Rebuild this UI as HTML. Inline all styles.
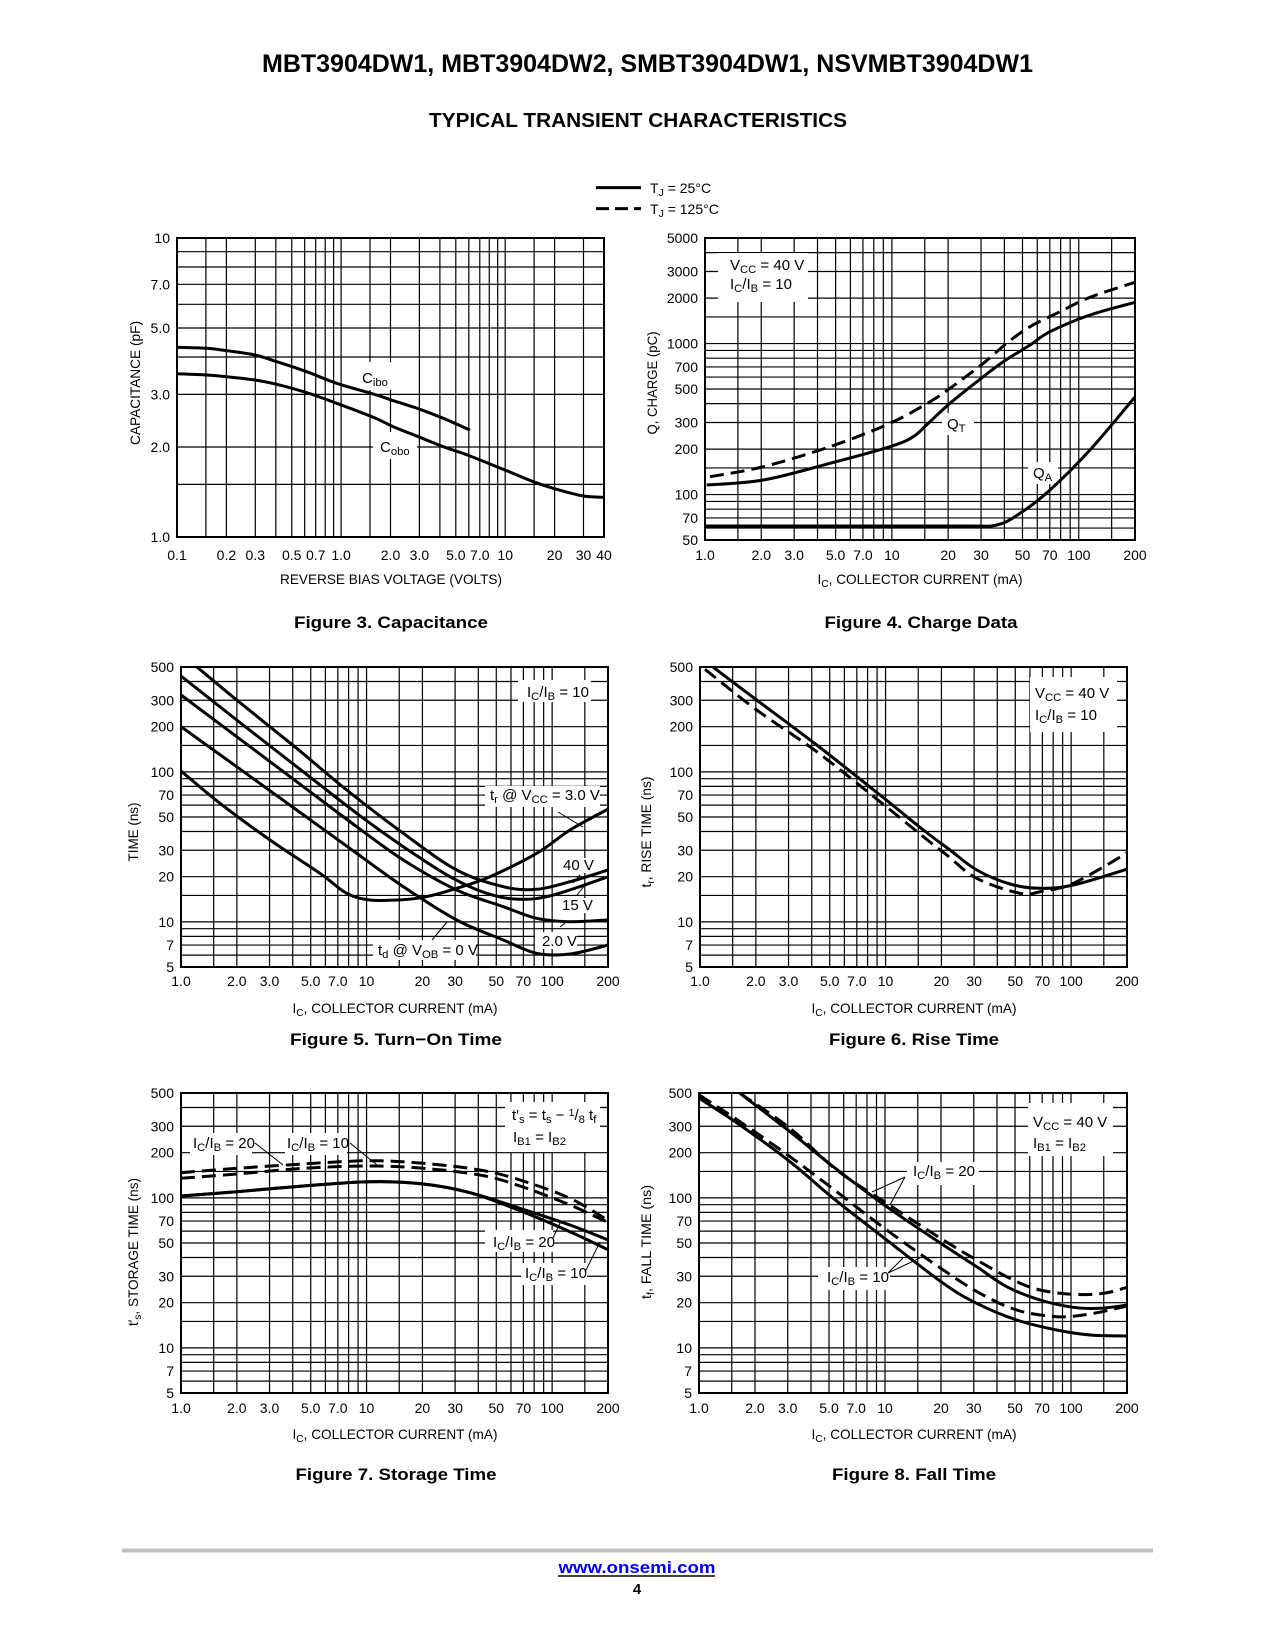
<!DOCTYPE html>
<html><head><meta charset="utf-8">
<style>
html,body{margin:0;padding:0;background:#fff;}
svg{display:block;}
text{font-family:"Liberation Sans Narrow","Liberation Sans",sans-serif;fill:#000;}
.b{font-family:"Liberation Sans",sans-serif;font-weight:bold;}
</style></head>
<body>
<svg id="s" xmlns="http://www.w3.org/2000/svg" width="1275" height="1650" viewBox="0 0 1275 1650"></svg>
<script>
var o=[];var gridIdx=0;
function sub(s){return s.replace(/_\{([^}]*)\}/g,'<tspan baseline-shift="-25%" font-size="75%">$1</tspan>').replace(/\^\{([^}]*)\}/g,'<tspan baseline-shift="35%" font-size="70%">$1</tspan>');}
function T(x,y,s,sz,anc,extra){o.push('<text x="'+x+'" y="'+y+'" font-size="'+(sz||14)+'" text-anchor="'+(anc||'start')+'" '+(extra||'')+'>'+sub(s)+'</text>');}
function L(x1,y1,x2,y2,w,extra){o.push('<line x1="'+x1+'" y1="'+y1+'" x2="'+x2+'" y2="'+y2+'" stroke="#000" stroke-width="'+(w||1)+'" '+(extra||'')+'/>');}
function R(x,y,w,h){o.splice(gridIdx,0,'<rect x="'+x+'" y="'+y+'" width="'+w+'" height="'+h+'" fill="#fff"/>');gridIdx++;}
function lg(v){return Math.log(v)/Math.LN10;}
function Z(ox,oy,pts){return pts.map(function(p){return [ox+p[0]/3,oy+p[1]/3];});}
function path(pts,dash,cid){
 var d='M'+pts[0][0].toFixed(1)+','+pts[0][1].toFixed(1);
 for(var i=0;i<pts.length-1;i++){
  var p0=pts[i-1]||pts[i],p1=pts[i],p2=pts[i+1],p3=pts[i+2]||p2;
  var c1=[p1[0]+(p2[0]-p0[0])/6,p1[1]+(p2[1]-p0[1])/6],c2=[p2[0]-(p3[0]-p1[0])/6,p2[1]-(p3[1]-p1[1])/6];
  d+='C'+c1[0].toFixed(1)+','+c1[1].toFixed(1)+' '+c2[0].toFixed(1)+','+c2[1].toFixed(1)+' '+p2[0].toFixed(1)+','+p2[1].toFixed(1);
 }
 o.push('<path d="'+d+'" fill="none" stroke="#000" stroke-width="3" '+(dash?'stroke-dasharray="14 7"':'')+' clip-path="url(#'+cid+')"/>');
}
var cidn=0;
function frame(F){
 var id='c'+(cidn++);F.cid=id;
 o.push('<clipPath id="'+id+'"><rect x="'+F.l+'" y="'+F.t+'" width="'+(F.r-F.l)+'" height="'+(F.b-F.t)+'"/></clipPath>');
 F.X=function(v){return F.l+(lg(v)-lg(F.x0))/(lg(F.x1)-lg(F.x0))*(F.r-F.l);};
 F.Y=function(v){return F.b-(lg(v)-lg(F.y0))/(lg(F.y1)-lg(F.y0))*(F.b-F.t);};
 var m=[1,1.5,2,3,4,5,6,7,8,9];
 for(var d=-2;d<4;d++)for(var k=0;k<m.length;k++){
  var v=m[k]*Math.pow(10,d);
  if(v>F.x0*1.001&&v<F.x1*0.999){var x=F.X(v);L(x,F.t,x,F.b,1.2);}
  if(v>F.y0*1.001&&v<F.y1*0.999){var y=F.Y(v);L(F.l,y,F.r,y,1.2);}
 }
 F.xl.forEach(function(s){T(F.X(parseFloat(s)),F.tb,s,14,'middle');});
 F.yl.forEach(function(s){T(F.l-7,F.Y(parseFloat(s))+5,s,14,'end');});
 gridIdx=o.length;
}
function border(F){o.push('<rect x="'+F.l+'" y="'+F.t+'" width="'+(F.r-F.l)+'" height="'+(F.b-F.t)+'" fill="none" stroke="#000" stroke-width="2"/>');}
function ylab(x,cy,s,len){o.push('<text transform="translate('+(x+5)+','+cy+') rotate(-90)" font-size="14" text-anchor="middle" textLength="'+len+'" lengthAdjust="spacingAndGlyphs">'+sub(s)+'</text>');}
function xlab(cx,y,s,len){T(cx,y,s,14,'middle','textLength="'+len+'" lengthAdjust="spacingAndGlyphs"');}
function cap(cx,y,s,len){o.push('<text class="b" x="'+cx+'" y="'+y+'" font-size="17" text-anchor="middle" textLength="'+len+'" lengthAdjust="spacingAndGlyphs">'+s+'</text>');}

// Header
o.push('<text class="b" x="262" y="72" font-size="25" textLength="771" lengthAdjust="spacingAndGlyphs">MBT3904DW1, MBT3904DW2, SMBT3904DW1, NSVMBT3904DW1</text>');
o.push('<text class="b" x="429" y="127" font-size="20" textLength="418" lengthAdjust="spacingAndGlyphs">TYPICAL TRANSIENT CHARACTERISTICS</text>');
L(596,187.6,641,187.6,3);L(596,208.6,641,208.6,3,'stroke-dasharray="13 6"');
T(650,193,'T_{J} = 25°C',14);T(650,214,'T_{J} = 125°C',14);

var xs=['1.0','2.0','3.0','5.0','7.0','10','20','30','50','70','100','200'];
var ys=['5','7','10','20','30','50','70','100','200','300','500'];
// Fig3
var F3={l:177,t:238,r:604,b:537,x0:0.1,x1:40,y0:1,y1:10,tb:560,
 xl:['0.1','0.2','0.3','0.5','0.7','1.0','2.0','3.0','5.0','7.0','10','20','30','40'],yl:['1.0','2.0','3.0','5.0','7.0','10']};
frame(F3);
R(358,362,36,28);R(373,432,44,27);
path(Z(140,220,[[110,382],[200,385],[260,392],[345,405],[410,425],[500,455],[590,490],[700,522],[760,542],[840,568],[910,595],[990,630]]),0,F3.cid);
path(Z(140,220,[[110,461],[200,465],[260,470],[345,480],[410,493],[500,518],[590,550],[700,592],[760,620],[840,652],[910,680],[990,708],[1090,748],[1180,785],[1250,808],[1330,828],[1395,832]]),0,F3.cid);
T(362,383,'C_{ibo}',15);T(380,452,'C_{obo}',15);
border(F3);
ylab(135,383,'CAPACITANCE (pF)',124);xlab(391,584,'REVERSE BIAS VOLTAGE (VOLTS)',222);cap(391,628,'Figure 3. Capacitance',194);

// Fig4
var F4={l:705,t:238,r:1135,b:540,x0:1,x1:200,y0:50,y1:5000,tb:560,xl:xs,
 yl:['50','70','100','200','300','500','700','1000','2000','3000','5000']};
frame(F4);
R(718,253,90,49);R(942,413,32,22);R(1028,462,30,22);
path(Z(630,220,[[240,770],[400,740],[600,680],[780,610],[900,545],[960,505],[1060,430],[1130,370],[1200,320],[1290,275],[1380,232],[1515,187]]),1,F4.cid);
path(Z(630,220,[[230,795],[400,780],[600,730],[780,680],[850,650],[900,605],[960,550],[1060,470],[1120,425],[1200,375],[1260,335],[1380,285],[1515,247]]),0,F4.cid);
path(Z(630,220,[[228,918],[600,918],[1000,918],[1100,915],[1170,880],[1260,810],[1380,690],[1515,531]]),0,F4.cid);
T(730,270,'V_{CC} = 40 V',15);T(730,289,'I_{C}/I_{B} = 10',15);
T(947,429,'Q_{T}',15);T(1033,478,'Q_{A}',15);
border(F4);
ylab(652,383,'Q, CHARGE (pC)',103);xlab(920,584,'I_{C}, COLLECTOR CURRENT (mA)',205);cap(921,628,'Figure 4. Charge Data',193);

// Fig5
var F5={l:181,t:667,r:608,b:967,x0:1,x1:200,y0:5,y1:500,tb:986,xl:xs,yl:ys};
frame(F5);
R(518,680,73,22);R(485,786,115,21);R(560,858,32,15);R(560,898,30,15);R(535,932,42,17);R(373,940,103,20);
var z5=function(p){return Z(170,660,p);};
path(z5([[80,20],[200,120],[380,265],[530,390],[700,520],[860,630],[1000,680],[1100,688],[1200,665],[1315,630]]),0,F5.cid);
path(z5([[33,48],[200,180],[380,320],[560,460],[700,560],[840,650],[950,700],[1050,718],[1150,705],[1315,650]]),0,F5.cid);
path(z5([[33,105],[200,230],[380,365],[560,500],[700,600],[860,690],[1000,740],[1100,775],[1200,785],[1315,780]]),0,F5.cid);
path(z5([[33,200],[200,320],[380,450],[560,580],[700,680],[860,780],[1000,840],[1100,880],[1200,882],[1315,855]]),0,F5.cid);
path(z5([[33,333],[150,430],[300,540],[450,640],[530,700],[600,720],[680,720],[760,712],[860,685],[960,650],[1100,580],[1200,510],[1315,447]]),0,F5.cid);
T(527,697,'I_{C}/I_{B} = 10',15);
T(490,800,'t_{r} @ V_{CC} = 3.0 V',15);L(558,812,583,827,1);
T(563,870,'40 V',15);L(573,883,580,875,1);
T(562,910,'15 V',15);L(577,895,585,885,1);
T(542,946,'2.0 V',15);L(560,927,565,923,1);
T(378,955,'t_{d} @ V_{OB} = 0 V',15);L(432,940,447,922,1);
border(F5);
ylab(133,832,'TIME (ns)',59);xlab(395,1013,'I_{C}, COLLECTOR CURRENT (mA)',205);cap(396,1045,'Figure 5. Turn−On Time',212);

// Fig6
var F6={l:700,t:667,r:1127,b:967,x0:1,x1:200,y0:5,y1:500,tb:986,xl:xs,yl:ys};
frame(F6);
R(1030,677,87,55);
var z6=function(p){return Z(690,660,p);};
path(z6([[70,22],[200,120],[380,255],[570,405],[700,510],[780,570],[860,630],[960,672],[1050,685],[1150,675],[1310,628]]),0,F6.cid);
path(z6([[45,28],[200,150],[380,275],[570,425],[700,530],[770,585],[860,655],[990,700],[1060,693],[1150,670],[1310,580]]),1,F6.cid);
T(1035,698,'V_{CC} = 40 V',15);T(1035,720,'I_{C}/I_{B} = 10',15);
border(F6);
ylab(646,832,'t_{r}, RISE TIME (ns)',111);xlab(914,1013,'I_{C}, COLLECTOR CURRENT (mA)',205);cap(914,1045,'Figure 6. Rise Time',170);

// Fig7
var F7={l:181,t:1093,r:608,b:1393,x0:1,x1:200,y0:5,y1:500,tb:1413,xl:xs,yl:ys};
frame(F7);
R(190,1133,62,22);R(285,1133,62,22);R(505,1102,95,50);R(485,1230,68,22);R(521,1263,66,22);
var z7=function(p){return Z(170,1090,p);};
path(z7([[33,248],[200,235],[400,222],[600,212],[760,220],[930,240],[1050,270],[1200,325],[1320,395]]),1,F7.cid);
path(z7([[33,265],[200,252],[400,235],[600,228],[760,235],[930,255],[1050,288],[1200,345],[1320,400]]),1,F7.cid);
path(z7([[33,318],[200,305],[400,288],[600,275],[760,282],[900,308],[1050,355],[1200,405],[1320,452]]),0,F7.cid);
path(z7([[33,318],[200,305],[400,288],[600,275],[760,282],[900,308],[1050,362],[1200,425],[1320,482]]),0,F7.cid);
T(193,1148,'I_{C}/I_{B} = 20',15);L(255,1143,283,1165,1);
T(287,1148,'I_{C}/I_{B} = 10',15);L(350,1143,377,1165,1);
T(512,1120,'t′_{s} = t_{s} − ^{1}/_{8} t_{f}',15);T(513,1142,'I_{B1} = I_{B2}',15);
T(493,1247,'I_{C}/I_{B} = 20',15);L(553,1238,560,1223,1);
T(525,1278,'I_{C}/I_{B} = 10',15);L(585,1272,600,1242,1);
border(F7);
ylab(133,1252,'t′_{s}, STORAGE TIME (ns)',148);xlab(395,1439,'I_{C}, COLLECTOR CURRENT (mA)',205);cap(396,1480,'Figure 7. Storage Time',201);

// Fig8
var F8={l:699,t:1093,r:1127,b:1393,x0:1,x1:200,y0:5,y1:500,tb:1413,xl:xs,yl:ys};
frame(F8);
R(1028,1103,85,53);R(907,1162,72,23);R(818,1267,72,23);
var z8=function(p){return Z(690,1090,p);};
path(z8([[150,10],[300,125],[430,230],[590,350],[760,465],[860,530],[950,590],[1050,630],[1150,652],[1230,655],[1312,645]]),0,F8.cid);
path(z8([[150,10],[300,115],[440,240],[590,340],[760,450],[860,510],[970,570],[1050,600],[1150,613],[1240,610],[1312,592]]),1,F8.cid);
path(z8([[28,25],[150,105],[300,215],[430,325],[590,450],[760,580],[860,640],[980,690],[1100,720],[1200,735],[1312,738]]),0,F8.cid);
path(z8([[28,15],[150,95],[300,200],[440,305],[590,420],[760,540],[870,610],[980,660],[1100,680],[1200,672],[1312,648]]),1,F8.cid);
T(1033,1127,'V_{CC} = 40 V',15);T(1033,1148,'I_{B1} = I_{B2}',15);
T(913,1176,'I_{C}/I_{B} = 20',15);L(905,1177,872,1192,1);L(905,1177,890,1205,1);
T(827,1282,'I_{C}/I_{B} = 10',15);L(888,1273,903,1258,1);L(888,1273,920,1258,1);
border(F8);
ylab(646,1242,'t_{f}, FALL TIME (ns)',114);xlab(914,1439,'I_{C}, COLLECTOR CURRENT (mA)',205);cap(914,1480,'Figure 8. Fall Time',164);

// Footer
o.push('<rect x="122" y="1548.5" width="1031" height="4" fill="#c0c0c0"/>');
o.push('<text class="b" x="637" y="1573" font-size="17" text-anchor="middle" style="fill:#0000ee" textLength="157" lengthAdjust="spacingAndGlyphs">www.onsemi.com</text>');
L(558,1576,715,1576,1.5,'stroke="#0000ee"');
o.push('<text class="b" x="637" y="1594" font-size="15" text-anchor="middle">4</text>');
document.getElementById('s').innerHTML=o.join('');
</script>
</body></html>
